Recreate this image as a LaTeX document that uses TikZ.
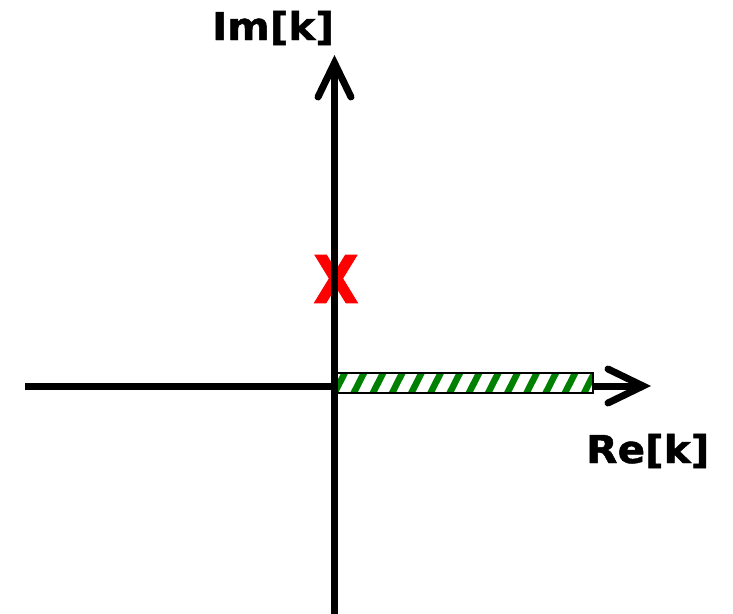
\documentclass[tikz,border=0pt]{standalone}
\usepackage{fontspec}
\setmainfont{DejaVu Sans}
\newfontfamily\lblfont[FakeBold=1.2]{DejaVu Sans Bold}
\begin{document}
\begin{tikzpicture}[x=1pt,y=-1pt,
  axisline/.style={line width=7pt,black},
  headline/.style={line width=7pt,black,line cap=round,line join=miter},
  lbl/.style={inner sep=0pt,anchor=base west,font=\fontsize{38.4}{40}\selectfont\lblfont},
  stripe/.style={line width=6.5pt,draw={rgb,255:red,0;green,128;blue,0}},
  barframe/.style={draw=black,line width=1.8pt}]
\useasboundingbox (0,0) rectangle (733,613);
% pole marker (under the axis)
\node[inner sep=0pt,text=red,font=\fontsize{65.8}{66}\selectfont\lblfont] (pole) at (336,279) {\scalebox{0.9}[1]{X}};
% coordinates
\coordinate (O) at (334.5,386);
\coordinate (ytip) at (334.5,63);
\coordinate (ybot) at (334.5,620);
\coordinate (xleft) at (25,386);
\coordinate (xtip) at (643,386);
% axes
\draw[axisline] (ybot) -- (ytip);
\draw[axisline] (xleft) -- (xtip);
% arrow heads
\draw[headline] ([shift={(-16.5,34)}]ytip) -- (ytip) -- ([shift={(16.5,34)}]ytip);
\draw[headline] ([shift={(-35,-17)}]xtip) -- (xtip) -- ([shift={(-35,17)}]xtip);
% hatched bar
\coordinate (b1) at (337,373);
\coordinate (b2) at (593,393);
\fill[white] (b1) rectangle (b2);
\begin{scope}
\clip (b1) rectangle (b2);
\foreach \i in {-1,...,14}{
  \draw[stripe] ({333+19.2*\i},396) -- ({333+19.2*\i+13.2},370);
}
\end{scope}
\draw[barframe] (b1) rectangle (b2);
% labels
\node[lbl] (im) at (212,40) {\scalebox{1.06}[1]{Im[k]}};
\node[lbl] (re) at (586,463) {\scalebox{1.06}[1]{Re[k]}};
\end{tikzpicture}
\end{document}
